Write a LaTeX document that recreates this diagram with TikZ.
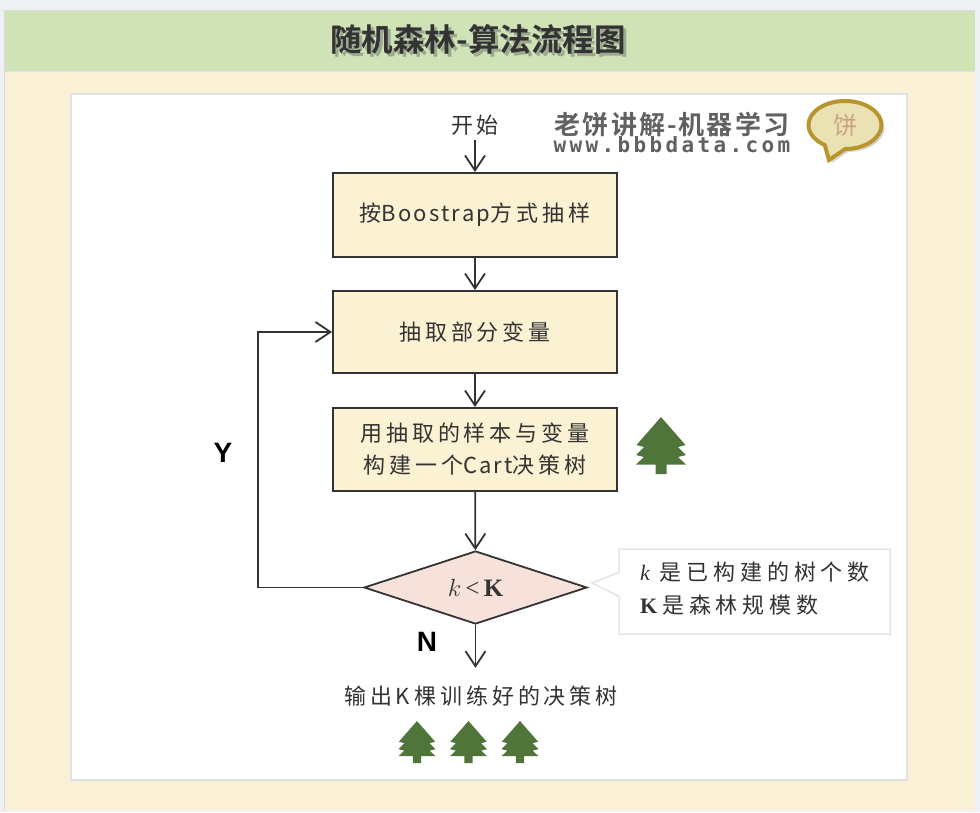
\documentclass[tikz,border=0pt]{standalone}
\usepackage{fontspec}
\setmainfont{Liberation Serif}
\newfontfamily\cjk[LetterSpace=18]{Noto Sans CJK SC}
\newfontfamily\cjkwide[LetterSpace=22]{Noto Sans CJK SC}
\newfontfamily\latintight[LetterSpace=10]{Noto Sans CJK SC}
\newfontfamily\titlefont{Noto Sans CJK SC}[BoldFont={Noto Sans CJK SC Bold}]
\newfontfamily\logofont[LetterSpace=8]{Noto Sans CJK SC}[BoldFont={Noto Sans CJK SC Bold}]
\newfontfamily\logomono[LetterSpace=16]{DejaVu Sans Mono}
\newfontfamily\labelfont{Liberation Sans}
\usetikzlibrary{arrows.meta,shapes.geometric,shapes.callouts,shadows}
\definecolor{pagebg}{HTML}{EEF0F4}
\definecolor{bandgreen}{HTML}{D0E3B6}
\definecolor{cream}{HTML}{FAF0D5}
\definecolor{panelline}{HTML}{DFE1E3}
\definecolor{boxfill}{HTML}{FBF1D3}
\definecolor{dfill}{HTML}{F6E2DA}
\definecolor{ink}{HTML}{333333}
\definecolor{treegreen}{HTML}{50753A}
\definecolor{markline}{HTML}{B8962E}
\definecolor{markfill}{HTML}{EBE2B4}
\definecolor{marktext}{HTML}{C9A285}
\definecolor{titleshadow}{HTML}{9DA98F}
\newcommand{\titlewords}{随机森林-算法流程图}
\tikzset{
  stepbox/.style={draw=ink,line width=1.8pt,fill=boxfill,minimum width=284pt,inner sep=0pt,font=\cjk\fontsize{22}{32}\selectfont,align=center,text=ink},
  flow/.style={draw=ink,line width=1.8pt,-{Straight Barb[length=15pt,width=20pt,line width=1.8pt]}},
  plaintext/.style={inner sep=0pt,font=\cjk\fontsize{22}{26}\selectfont,text=ink},
  yn/.style={font=\labelfont\bfseries\fontsize{28}{28}\selectfont,text=black,inner sep=0pt},
  treepic/.pic={\fill[treegreen] (0,0) -- (24.5,28) -- (17,30) -- (25,38) -- (17,40) -- (25,47.5) -- (5.5,47.5) -- (5.5,57) -- (-5.5,57) -- (-5.5,47.5) -- (-25,47.5) -- (-17,40) -- (-25,38) -- (-17,30) -- (-24.5,28) -- cycle;}
}
\begin{document}
\begin{tikzpicture}[x=1pt,y=-1pt]
\useasboundingbox (0,0) rectangle (980,812);
\fill[pagebg] (0,0) rectangle (980,812);
\fill[bandgreen] (5,11) rectangle (975,71);
\fill[cream] (5,71) rectangle (975,810);
\draw[black!14,line width=1.5pt] (4.5,811) -- (4.5,10.5) -- (975,10.5);
\draw[panelline,line width=1pt] (5,71) -- (975,71);
\draw[panelline,line width=1.5pt,fill=white] (71,94) rectangle (907,780);

% title with its soft shadow, in one node
\node[inner sep=0pt,text=ink,font=\titlefont\bfseries\fontsize{31.5}{31.5}\selectfont] (titletext) at (478,41) {\rlap{\kern3pt\raisebox{-3pt}{\textcolor{titleshadow}{\titlewords}}}\titlewords};

% logo
\node[inner sep=0pt,text=black!62,font=\logofont\bfseries\fontsize{26}{26}\selectfont] (logoa) at (672,125) {老饼讲解-机器学习};
\node[inner sep=0pt,text=black!62,font=\logomono\bfseries\fontsize{21}{21}\selectfont] (logob) at (672,145) {www.bbbdata.com};
\node[ellipse callout,callout absolute pointer={(829,160)},callout pointer arc=34,draw=markline,line width=4pt,fill=markfill,minimum width=73pt,minimum height=48pt,inner sep=0pt,text=marktext,font=\titlefont\fontsize{24}{24}\selectfont,drop shadow={shadow xshift=3pt,shadow yshift=-3pt,opacity=.3}] (logomark) at (845,125) {饼};

% flow nodes
\node[plaintext] (start) at (475,125) {开始};
\node[stepbox,minimum height=84pt] (sample) at (475,215) {\raisebox{-3pt}{按{\latintight Boostrap}方式抽样}};
\node[stepbox,minimum height=82pt] (pick) at (475,332) {抽取部分变量};
\node[stepbox,minimum height=83pt] (build) at (475,449.5) {用抽取的样本与变量\\构建一个{\latintight Cart}决策树};
\node[diamond,draw=ink,line width=1.8pt,fill=dfill,minimum width=223pt,minimum height=73pt,inner sep=0pt,aspect=3,font=\fontsize{25}{25}\selectfont,text=ink] (check) at (475.5,587.5) {\raisebox{-2pt}{$k$\,<\,\textbf{K}}};
\node[plaintext,minimum height=56pt] (output) at (481,696) {输出K棵训练好的决策树};

% connectors
\draw[flow] (start.south |- 0,140) -- (sample.north);
\draw[flow] (sample) -- (pick);
\draw[flow] (pick) -- (build);
\draw[flow] (build) -- (check);
\draw[flow] (check.south) -- (check.south |- output.north);
\coordinate (loopb) at (258,587.5);
\coordinate (loopt) at (258,332);
\draw[flow] (check.west) -- (loopb) -- (loopt) -- (pick.west);

\node[yn] (ylabel) at (223,453) {Y};
\node[yn] (nlabel) at (427,642) {N};

% annotation
\node[rectangle callout,callout absolute pointer={(592,583)},callout pointer width=24pt,draw=black!10,line width=1.5pt,fill=white,minimum width=271pt,minimum height=85pt,inner sep=0pt] (note) at (754.5,591.5) {};
\node[anchor=west,inner sep=0pt,font=\cjkwide\fontsize{22}{33}\selectfont,text=ink,align=left] (notetext) at (640,589) {{\fontspec{Liberation Serif}\itshape k}\kern10pt\relax 是已构建的树个数\\{\fontspec{Liberation Serif}\bfseries K}\kern5pt\relax 是森林规模数};

% trees
\pic at (661,417) {treepic};
\pic[scale=.74] at (417,721) {treepic};
\pic[scale=.74] at (468.5,721) {treepic};
\pic[scale=.74] at (520,721) {treepic};
\end{tikzpicture}
\end{document}
